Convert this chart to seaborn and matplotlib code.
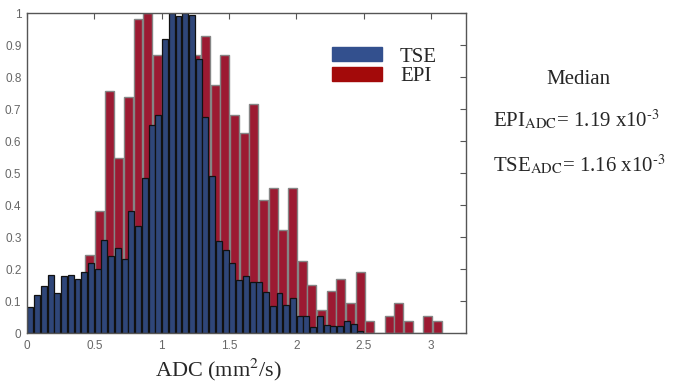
import numpy as np
import pandas as pd
import matplotlib
matplotlib.use("Agg")
import matplotlib.pyplot as plt
import seaborn as sns
from matplotlib.patches import Patch

sns.set_style("white")
plt.rcParams['mathtext.fontset'] = 'stix'

# TSE histogram, bin width 0.05 starting at 0
tse_width = 0.05
tse_vals = [0.08, 0.12, 0.147, 0.18, 0.125, 0.178, 0.18, 0.17, 0.19, 0.22,
            0.20, 0.29, 0.24, 0.265, 0.23, 0.38, 0.335, 0.485, 0.65, 0.68,
            0.92, 1.0, 0.99, 1.0, 0.995, 0.855, 0.675, 0.49, 0.286, 0.26,
            0.218, 0.166, 0.179, 0.158, 0.158, 0.128, 0.083, 0.125, 0.088, 0.109,
            0.054, 0.054, 0.02, 0.052, 0.026, 0.023, 0.021, 0.036, 0.029, 0.005]

# EPI histogram, wider bins starting at 0
epi_width = 0.0717
epi_vals = [0.075, 0.10, 0.095, 0.12, 0.095, 0.15, 0.245, 0.38, 0.757, 0.546,
            0.736, 0.982, 1.0, 0.868, 0.625, 0.95, 0.98, 0.87, 0.928, 0.774,
            0.868, 0.681, 0.624, 0.715, 0.416, 0.454, 0.322, 0.454, 0.226, 0.149,
            0.073, 0.13, 0.17, 0.094, 0.19, 0.036, 0.0, 0.054, 0.094, 0.036,
            0.0, 0.054, 0.036]

xticks = [0, 0.5, 1, 1.5, 2, 2.5, 3]
xticklabels = ["0", "0.5", "1", "1.5", "2", "2.5", "3"]
yticks = [0, 0.1, 0.2, 0.3, 0.4, 0.5, 0.6, 0.7, 0.8, 0.9, 1]
yticklabels = ["0", "0.1", "0.2", "0.3", "0.4", "0.5", "0.6", "0.7", "0.8", "0.9", "1"]

tse_edges = [i * tse_width for i in range(len(tse_vals) + 1)]
epi_edges = [i * epi_width for i in range(len(epi_vals) + 1)]
tse = pd.DataFrame({'adc': [e + tse_width / 2 for e in tse_edges[:-1]], 'w': tse_vals})
epi = pd.DataFrame({'adc': [e + epi_width / 2 for e in epi_edges[:-1]], 'w': epi_vals})

blue = '#2f4679'
red = '#9c1a32'

fig = plt.figure(figsize=(6.95, 3.86), dpi=100)
ax = fig.add_axes([27 / 695, 1 - 333 / 386, (466 - 27) / 695, (333 - 13) / 386])

sns.histplot(data=epi, x='adc', weights='w', bins=epi_edges, color=red, alpha=1,
             edgecolor='#858585', linewidth=1.0, shrink=0.92, ax=ax)
sns.histplot(data=tse, x='adc', weights='w', bins=tse_edges, color=blue, alpha=1,
             edgecolor='#111111', linewidth=0.9, shrink=0.88, ax=ax)

ax.set_xlim(0, 3.26)
ax.set_ylim(0, 1)
ax.set_xticks(xticks)
ax.set_xticklabels(xticklabels)
ax.set_yticks(yticks)
ax.set_yticklabels(yticklabels)
ax.set_xlabel('')
ax.set_ylabel('')
ax.tick_params(direction='in', length=4, width=0.8, colors='#555555',
               labelcolor='#666666', labelsize=8.5, top=True, right=True)
for lab in ax.get_xticklabels() + ax.get_yticklabels():
    lab.set_family('Liberation Sans')
ax.tick_params(axis='x', pad=5)
ax.tick_params(axis='y', pad=4)
for s in ax.spines.values():
    s.set_color('#555555')
    s.set_linewidth(1.0)

handles = [Patch(facecolor='#33508e', edgecolor='#33508e', label='TSE'),
           Patch(facecolor='#a30a0a', edgecolor='#a30a0a', label='EPI')]
ax.legend(handles=handles, frameon=False, loc='upper left',
          bbox_to_anchor=(322 / 695, 1 - 37 / 386), bbox_transform=fig.transFigure,
          prop={'family': 'Liberation Serif', 'size': 15}, borderpad=0,
          labelspacing=0.0, handlelength=2.4, handleheight=0.65, handletextpad=0.85)

fig.text(219 / 695, 1 - 370 / 386, 'ADC (mm$^{2}$/s)', ha='center', va='center',
         family='Liberation Serif', fontsize=16)

fig.text(578 / 695, 1 - 80 / 386, 'Median', ha='center', va='center',
         family='Liberation Serif', fontsize=15)
fig.text(493 / 695, 1 - 120 / 386, r'EPI$_{\mathrm{ADC}}$= 1.19 x10$^{\text{-}3}$', ha='left',
         va='center', family='Liberation Serif', fontsize=15)
fig.text(493 / 695, 1 - 165 / 386, r'TSE$_{\mathrm{ADC}}$= 1.16 x10$^{\text{-}3}$', ha='left',
         va='center', family='Liberation Serif', fontsize=15)

fig.savefig('out.png', dpi=100)
